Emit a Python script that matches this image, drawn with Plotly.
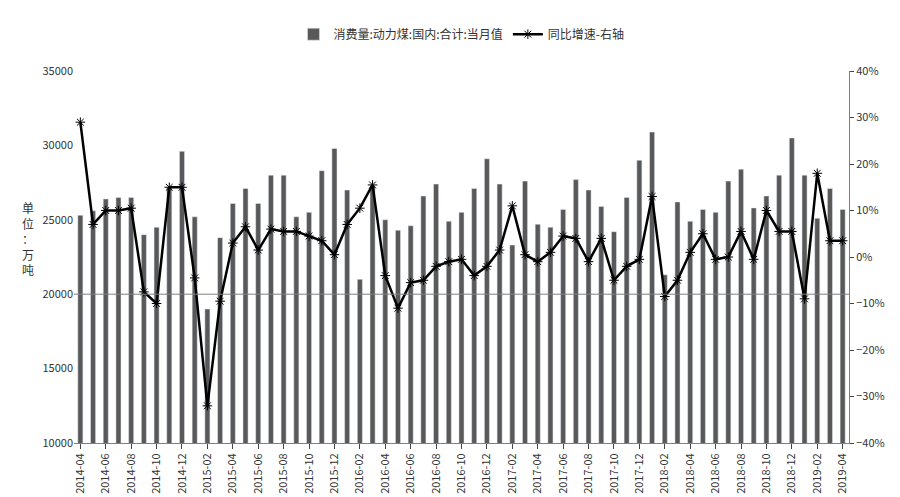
import plotly.graph_objects as go

months = [f"{y}-{m:02d}" for y in range(2014, 2020) for m in range(1, 13)]
months = months[months.index("2014-04"):months.index("2019-04") + 1]

consumption = [25300, 25600, 26400, 26500, 26500, 24000, 24500, 27200, 29600,
               25200, 19000, 23800, 26100, 27100, 26100, 28000, 28000, 25200, 25500, 28300, 29800,
               27000, 21000, 27300, 25000, 24300, 24600, 26600, 27400, 24900, 25500, 27100, 29100,
               27400, 23300, 27600, 24700, 24500, 25700, 27700, 27000, 25900, 24200, 26500, 29000,
               30900, 21300, 26200, 24900, 25700, 25500, 27600, 28400, 25800, 26600, 28000, 30500,
               28000, 25100, 27100, 25700]
yoy = [29, 7, 10, 10, 10.5, -7.5, -10, 15, 15,
       -4.5, -32, -9.5, 3, 6.5, 1.5, 6, 5.5, 5.5, 4.5, 3.5, 0.5,
       7, 10.5, 15.5, -4, -11, -5.5, -5, -2, -1, -0.5, -4, -2,
       1.5, 11, 0.5, -1, 1, 4.5, 4, -1, 4, -5, -2, -0.5,
       13, -8.5, -5, 1, 5, -0.5, 0, 5.5, -0.5, 10, 5.5, 5.5,
       -9, 18, 3.5, 3.5]
yoy_frac = [v / 100 for v in yoy]

font = dict(family="Noto Sans CJK SC, DejaVu Sans", size=12, color="#333")
fig = go.Figure()
fig.add_bar(x=months, y=consumption, name="消费量:动力煤:国内:合计:当月值",
            marker_color="#595959", width=0.4)
fig.add_scatter(x=months, y=yoy_frac, name="同比增速-右轴", yaxis="y2",
                mode="lines+markers", line=dict(color="black", width=2.5),
                marker=dict(symbol="asterisk-open", size=8, color="black",
                            line=dict(width=1, color="black")))
fig.add_shape(type="line", xref="paper", x0=0, x1=1, yref="y", y0=20000, y1=20000,
              line=dict(color="#808080", width=1))
fig.update_layout(
    width=900, height=497, margin=dict(l=66, r=59, t=48, b=62, pad=0),
    plot_bgcolor="white", paper_bgcolor="white", font=font, bargap=0.5,
    legend=dict(orientation="h", x=0.5, xanchor="center", y=1.06, yanchor="bottom",
                font=dict(size=12, color="#333")),
    xaxis=dict(type="category", tickvals=months[::2], tickangle=-90,
               ticks="outside", ticklen=5, showline=True, linecolor="#808080",
               tickfont=dict(size=11), range=[-0.5, len(months) - 0.5]),
    yaxis=dict(range=[10000, 35000], dtick=5000, showgrid=False, showline=False,
               tickformat="d", tickfont=dict(size=11)),
    yaxis2=dict(overlaying="y", side="right", range=[-0.4, 0.4], dtick=0.1,
                tickformat=".0%", showgrid=False, showline=True, linecolor="#808080",
                ticks="outside", ticklen=4, tickfont=dict(size=11)),
    annotations=[dict(text="单<br>位<br>：<br>万<br>吨", xref="paper", yref="paper",
                      x=-0.07, y=0.55, showarrow=False, font=dict(size=12))],
)
fig.write_html("out.html")
